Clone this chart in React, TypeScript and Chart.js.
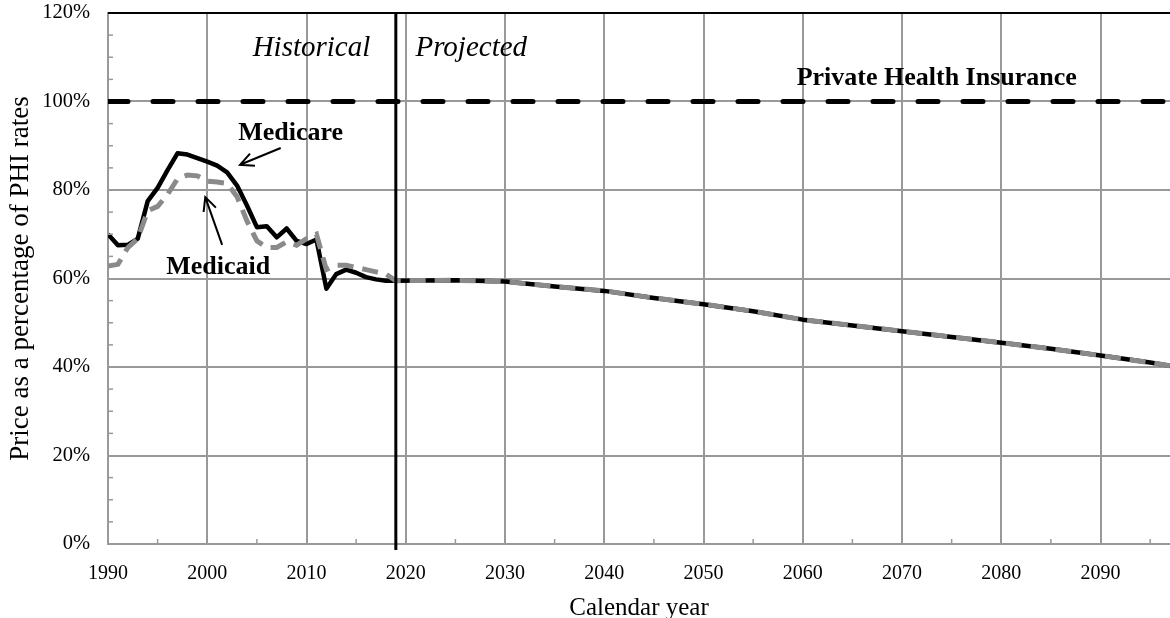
import React, { useEffect, useRef } from "react";
import { Chart, registerables } from "chart.js";

Chart.register(...registerables);

const FONT = "'Liberation Serif', 'Times New Roman', serif";

// Historical years
const histYears = [
  1990, 1991, 1992, 1993, 1994, 1995, 1996, 1997, 1998, 1999,
  2000, 2001, 2002, 2003, 2004, 2005, 2006, 2007, 2008, 2009,
  2010, 2011, 2012, 2013, 2014, 2015, 2016, 2017, 2018, 2019,
];
const medicareHist = [
  70, 67.5, 67.6, 69, 77.5, 80.5, 84.5, 88.3, 88, 87.2,
  86.4, 85.5, 84, 81, 76.5, 71.6, 71.8, 69.3, 71.3, 68.5,
  67.8, 68.8, 57.7, 61, 62, 61.3, 60.3, 59.8, 59.5, 59.5,
];
const medicaidHist = [
  62.8, 63.2, 67, 69, 75.3, 76.3, 79, 82.5, 83.4, 83.2,
  82, 81.8, 81.5, 78.5, 73, 68.5, 67, 67, 68.3, 67.5,
  69, 70, 62, 63, 63, 62.5, 62, 61.5, 61, 59.5,
];
// Projected (shared by Medicare and Medicaid)
const projYears = [2025, 2030, 2035, 2040, 2045, 2050, 2055, 2060, 2065, 2070, 2075, 2080, 2085, 2090, 2095, 2097];
const projValues = [59.6, 59.3, 58.2, 57.2, 55.6, 54.2, 52.6, 50.7, 49.4, 48.1, 46.8, 45.5, 44.1, 42.6, 41.0, 40.3];
// Private Health Insurance reference
const phiYears = [1990, 2097];
const phiValues = [100, 100];

const xTicks = [1990, 2000, 2010, 2020, 2030, 2040, 2050, 2060, 2070, 2080, 2090];
const yTicks = [0, 20, 40, 60, 80, 100, 120];
const xMinorTicks = [1995, 2005, 2015, 2025, 2035, 2045, 2055, 2065, 2075, 2085, 2095];
const yMinorTicks = [5, 10, 15, 25, 30, 35, 45, 50, 55, 65, 70, 75, 85, 90, 95, 105, 110, 115];
const divideYear = 2019;

const labels = [
  { text: "Historical", x: 2010.5, y: 112.1, font: `italic 29px ${FONT}` },
  { text: "Projected", x: 2026.6, y: 112.1, font: `italic 29px ${FONT}` },
  { text: "Private Health Insurance", x: 2073.5, y: 105.3, font: `bold 26px ${FONT}` },
  { text: "Medicare", x: 2008.4, y: 92.9, font: `bold 26px ${FONT}` },
  { text: "Medicaid", x: 2001.1, y: 62.6, font: `bold 26px ${FONT}` },
];
const arrows = [
  { from: [2007.4, 89.5], to: [2003.3, 85.7] },
  { from: [2001.5, 67.6], to: [1999.8, 78.4] },
];

const toPts = (xs: number[], ys: number[]) => xs.map((x, i) => ({ x, y: ys[i] }));

const decorPlugin = {
  id: "decor",
  afterDatasetsDraw(chart: any) {
    const { ctx, chartArea, scales } = chart;
    const xs = scales.x;
    const ys = scales.y;
    ctx.save();
    // minor ticks
    ctx.strokeStyle = "#999";
    ctx.lineWidth = 1.5;
    xMinorTicks.forEach((v) => {
      const px = xs.getPixelForValue(v);
      ctx.beginPath();
      ctx.moveTo(px, chartArea.bottom);
      ctx.lineTo(px, chartArea.bottom - 5);
      ctx.stroke();
    });
    yMinorTicks.forEach((v) => {
      const py = ys.getPixelForValue(v);
      ctx.beginPath();
      ctx.moveTo(chartArea.left, py);
      ctx.lineTo(chartArea.left + 5, py);
      ctx.stroke();
    });
    // top border
    ctx.strokeStyle = "#000";
    ctx.lineWidth = 2;
    ctx.beginPath();
    ctx.moveTo(chartArea.left, chartArea.top);
    ctx.lineTo(chartArea.right, chartArea.top);
    ctx.stroke();
    // divider
    const dx = xs.getPixelForValue(divideYear);
    ctx.lineWidth = 3;
    ctx.beginPath();
    ctx.moveTo(dx, chartArea.top);
    ctx.lineTo(dx, chartArea.bottom + 6);
    ctx.stroke();
    // labels
    ctx.fillStyle = "#000";
    ctx.textAlign = "center";
    ctx.textBaseline = "middle";
    labels.forEach((l) => {
      ctx.font = l.font;
      ctx.fillText(l.text, xs.getPixelForValue(l.x), ys.getPixelForValue(l.y));
    });
    // arrows
    ctx.lineWidth = 2;
    arrows.forEach((a) => {
      const x1 = xs.getPixelForValue(a.from[0]);
      const y1 = ys.getPixelForValue(a.from[1]);
      const x2 = xs.getPixelForValue(a.to[0]);
      const y2 = ys.getPixelForValue(a.to[1]);
      const ang = Math.atan2(y2 - y1, x2 - x1);
      const L = 15;
      const sp = 0.45;
      ctx.beginPath();
      ctx.moveTo(x1, y1);
      ctx.lineTo(x2, y2);
      ctx.moveTo(x2 - L * Math.cos(ang - sp), y2 - L * Math.sin(ang - sp));
      ctx.lineTo(x2, y2);
      ctx.lineTo(x2 - L * Math.cos(ang + sp), y2 - L * Math.sin(ang + sp));
      ctx.stroke();
    });
    ctx.restore();
  },
};

export default function App() {
  const ref = useRef<HTMLCanvasElement>(null);
  useEffect(() => {
    if (!ref.current) return;
    const chart = new Chart(ref.current, {
      type: "line",
      data: {
        datasets: [
          {
            label: "Medicaid",
            data: toPts([...histYears, ...projYears], [...medicaidHist, ...projValues]),
            borderColor: "#8a8a8a",
            borderWidth: 5,
            borderDash: [16, 9],
            pointRadius: 0,
            tension: 0,
            order: 0,
          },
          {
            label: "Medicare",
            data: toPts([...histYears, ...projYears], [...medicareHist, ...projValues]),
            borderColor: "#000",
            borderWidth: 4.5,
            pointRadius: 0,
            tension: 0,
            borderJoinStyle: "round",
            order: 1,
          },
          {
            label: "Private Health Insurance",
            data: toPts(phiYears, phiValues),
            borderColor: "#000",
            borderWidth: 5,
            borderDash: [20, 25],
            borderCapStyle: "round",
            pointRadius: 0,
            order: 2,
          },
        ],
      },
      options: {
        animation: false,
        responsive: false,
        layout: { padding: { top: 13, right: 0, left: 0, bottom: 0 } },
        plugins: { legend: { display: false }, tooltip: { enabled: false } },
        scales: {
          x: {
            type: "linear",
            min: 1990,
            max: 2097,
            afterBuildTicks: (s: any) => {
              s.ticks = xTicks.map((v) => ({ value: v }));
            },
            afterFit: (s: any) => {
              s.height = 74;
              s.paddingLeft = 0;
              s.paddingRight = 0;
            },
            ticks: {
              callback: (v: any) => String(v),
              font: { family: FONT, size: 20 },
              color: "#000",
              padding: 18,
              maxRotation: 0,
              autoSkip: false,
            },
            grid: { color: "#999", lineWidth: 2, drawTicks: false },
            border: { color: "#999", width: 2 },
            title: {
              display: true,
              text: "Calendar year",
              font: { family: FONT, size: 25 },
              color: "#000",
              padding: { top: 0, bottom: -5 },
            },
          },
          y: {
            min: 0,
            max: 120,
            afterBuildTicks: (s: any) => {
              s.ticks = yTicks.map((v) => ({ value: v }));
            },
            afterFit: (s: any) => {
              s.width = 108;
              s.paddingTop = 0;
              s.paddingBottom = 0;
            },
            ticks: {
              callback: (v: any) => `${v}%`,
              font: { family: FONT, size: 20.5 },
              color: "#000",
              padding: 18,
            },
            grid: { color: "#999", lineWidth: 2, drawTicks: false },
            border: { color: "#999", width: 2 },
            title: {
              display: true,
              text: "Price as a percentage of PHI rates",
              font: { family: FONT, size: 27 },
              color: "#000",
              padding: { top: 5, bottom: 0 },
            },
          },
        },
      },
      plugins: [decorPlugin],
    } as any);
    return () => chart.destroy();
  }, []);
  return (
    <div style={{ position: "absolute", left: 0, top: 0, width: 1170, height: 618, background: "#fff" }}>
      <canvas ref={ref} width={1170} height={618} style={{ display: "block" }} />
    </div>
  );
}
